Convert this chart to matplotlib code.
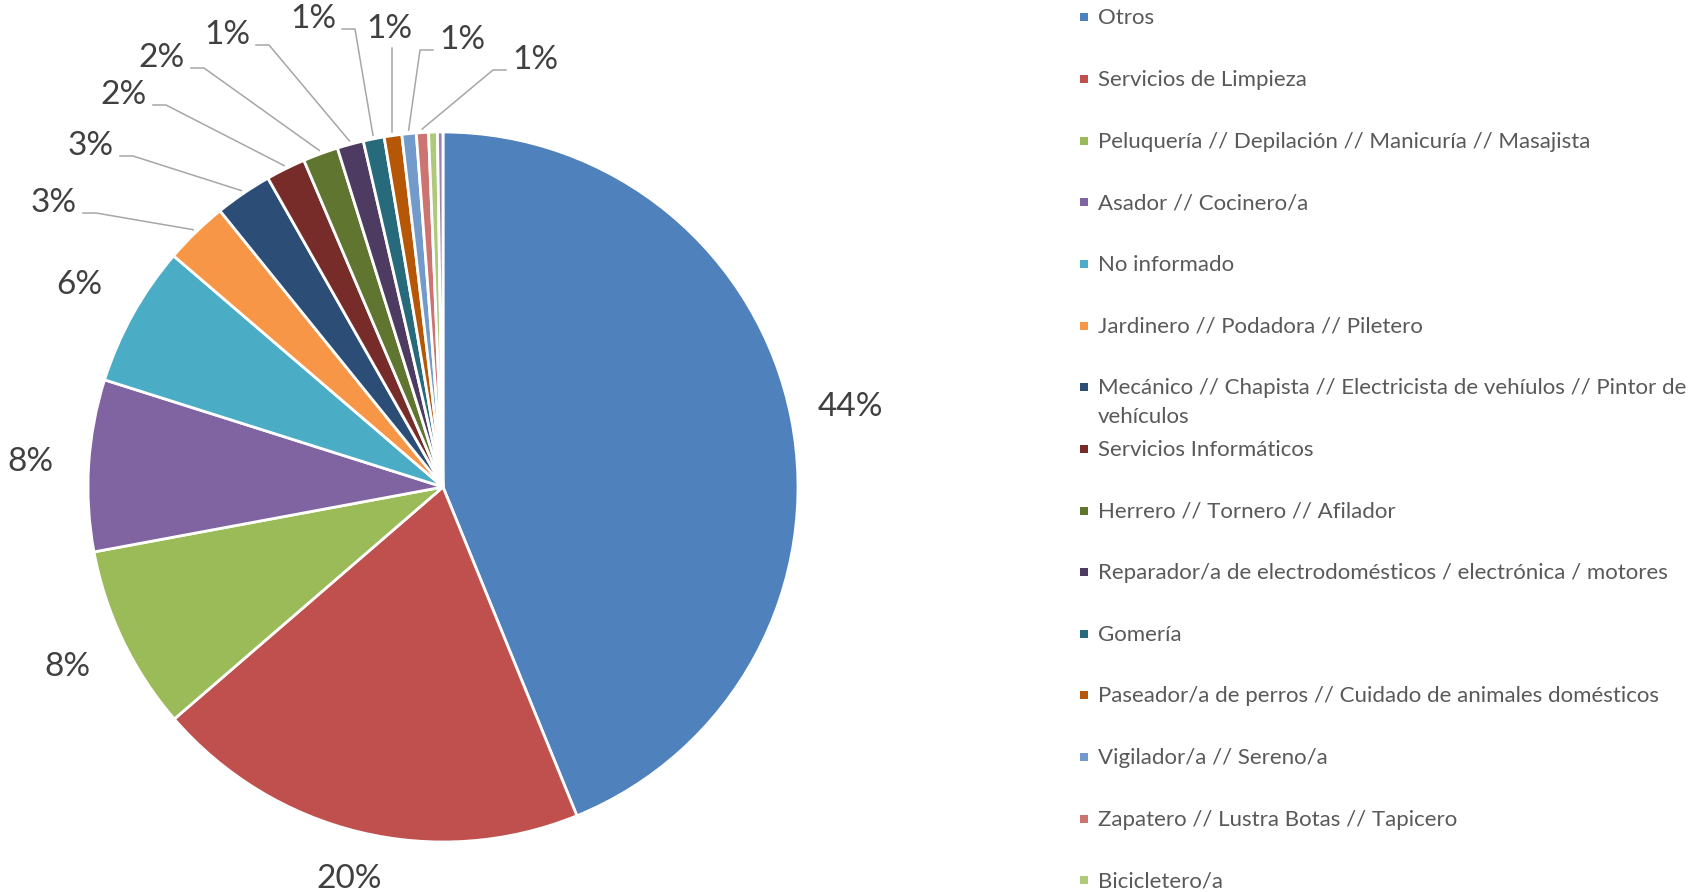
import matplotlib.pyplot as plt
import numpy as np

plt.rcParams['font.family'] = ['Lato', 'DejaVu Sans']

# Data
categories = [
    "Otros",
    "Servicios de Limpieza",
    "Peluquería // Depilación // Manicuría // Masajista",
    "Asador // Cocinero/a",
    "No informado",
    "Jardinero // Podadora // Piletero",
    "Mecánico // Chapista // Electricista de vehíulos // Pintor de\nvehículos",
    "Servicios Informáticos",
    "Herrero // Tornero // Afilador",
    "Reparador/a de electrodomésticos / electrónica / motores",
    "Gomería",
    "Paseador/a de perros // Cuidado de animales domésticos",
    "Vigilador/a // Sereno/a",
    "Zapatero // Lustra Botas // Tapicero",
    "Bicicletero/a",
]
# last value: extra slice whose legend entry is cut off in the original
shares = [43.8, 19.8, 8.4, 7.8, 6.4, 2.9, 2.6, 1.8, 1.6,
          1.2, 0.95, 0.8, 0.65, 0.55, 0.4, 0.25]
colors = ["#4F81BD", "#C0504D", "#9BBB59", "#8064A2", "#4BACC6", "#F79646",
          "#2C4D75", "#772C2A", "#5F7530", "#4D3B62", "#276A7C", "#B65708",
          "#729ACA", "#CD7371", "#AFC97A", "#9983B5"]

# label placement for the small slices (offset from pie centre, px)
small_label_pos = {5: (-389, 284), 6: (-352, 341), 7: (-319, 392), 8: (-281, 429),
                   9: (-216, 452), 10: (-130, 468), 11: (-54, 458), 12: (19, 447),
                   13: (92, 427)}

W, H = 1696, 892
fig = plt.figure(figsize=(W / 100, H / 100), dpi=100)

ax = fig.add_axes([0, 0, 1060 / W, 1])
cx, cy, R = 443, 405, 355
wedges, _ = ax.pie(shares, colors=colors, startangle=90, counterclock=False,
                   center=(cx, cy), radius=R,
                   wedgeprops=dict(edgecolor="white", linewidth=2))
ax.set_xlim(0, 1060)
ax.set_ylim(0, H)
ax.axis("off")

total = sum(shares)
for i, (w, v) in enumerate(zip(wedges, shares)):
    pct = v / total * 100
    if round(pct) < 1:
        continue
    txt = f"{pct:.0f}%"
    mid = np.deg2rad((w.theta1 + w.theta2) / 2)
    if i in small_label_pos:
        lx, ly = cx + small_label_pos[i][0], cy + small_label_pos[i][1]
        ax.text(lx, ly, txt, ha="center", va="center", fontsize=24, color="#404040")
        wx, wy = cx + R * 1.01 * np.cos(mid), cy + R * 1.01 * np.sin(mid)
        if wx < lx - 30:
            xs = [lx - 29, lx - 42, wx]
            ys = [ly - 10, ly - 10, wy]
        elif wx > lx + 30:
            xs = [lx + 29, lx + 42, wx]
            ys = [ly - 10, ly - 10, wy]
        else:
            xs = [wx, wx]
            ys = [ly - 19, wy]
        ax.plot(xs, ys, color="#A6A6A6", lw=1.1)
    else:
        c, s = np.cos(mid), np.sin(mid)
        d = R + 22 + abs(c) * 35 + abs(s) * 18
        ax.text(cx + d * c, cy + d * s, txt, ha="center", va="center",
                fontsize=24, color="#404040")

# Legend
lax = fig.add_axes([1060 / W, 0, 636 / W, 1])
lax.set_xlim(1060, W)
lax.set_ylim(H, 0)
lax.axis("off")
for i, name in enumerate(categories):
    y = 17.3 + 61.65 * i
    lax.scatter([1084], [y], marker="s", s=30, color=colors[i], linewidths=0)
    for j, line in enumerate(name.split("\n")):
        lax.text(1098, y + 7 + 29 * j, line, ha="left", va="baseline",
                 fontsize=16, color="#595959")

fig.savefig("out.png", dpi=100, facecolor="white")
